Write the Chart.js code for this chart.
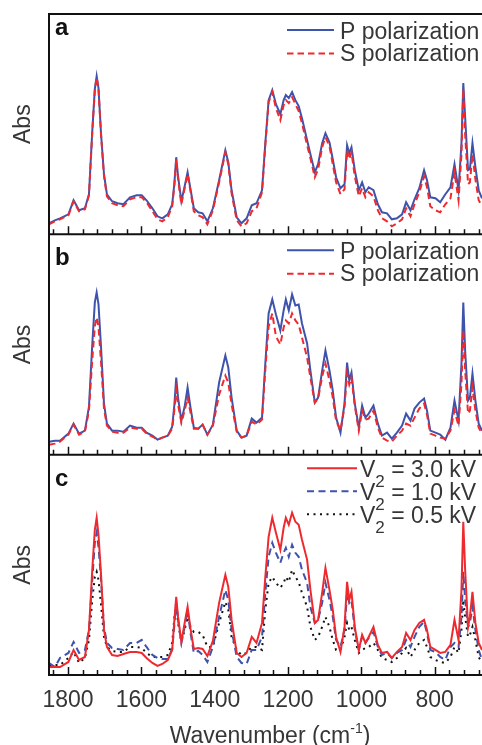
<!DOCTYPE html>
<html><head><meta charset="utf-8">
<script src="https://cdn.jsdelivr.net/npm/chart.js@4.4.0/dist/chart.umd.min.js"></script>
<style>html,body{margin:0;padding:0;background:#fff;overflow:hidden}#wrap{position:relative;width:482px;height:745px}</style>
</head><body><div id="wrap"><canvas id="c" width="482" height="745"></canvas></div>
<script>
// Wavenumber grid (cm-1)
const wavenumbers = [
1852,1836,1822,1799,1785,1770,1754,1743,1734,1727,
1722,1717,1710,1702,1694,1680,1665,1649,1631,1613,
1599,1586,1570,1556,1543,1528,1516,1510,1505,1500,
1491,1482,1474,1466,1457,1445,1433,1420,1405,1388,
1371,1363,1354,1340,1327,1313,1299,1286,1271,1262,
1253,1243,1233,1221,1212,1206,1198,1189,1180,1171,
1162,1148,1139,1127,1118,1107,1098,1087,1078,1069,
1057,1046,1039,1033,1027,1018,1007,998,989,980,
967,955,944,930,917,903,889,878,866,855,
842,829,821,812,798,785,771,757,746,735,
727,722,717,709,704,697,689,680,671];

// Panel a (arb. Abs units)
const aP = [
11,14,16,20,34,24,26,40,103,145,
158,146,100,60,40,33,31,30,37,39,
39,34,26,18,16,20,30,51,77,58,
33,48,62,45,26,22,21,13,26,54,
84,72,44,17,11,16,29,31,44,91,
134,144,130,120,134,139,136,142,134,128,
116,94,80,62,70,91,101,92,75,57,
46,50,89,81,87,64,44,52,42,47,
44,30,22,21,15,16,20,32,24,35,
46,64,54,37,36,32,40,47,70,44,
91,151,117,64,65,91,67,44,36];
const aS = [
10,13,15,19,33,23,25,39,102,144,
157,145,99,58,38,31,29,28,35,37,
37,32,23,15,13,17,28,49,75,55,
30,46,60,43,23,19,17,10,24,52,
82,70,41,14,8,11,23,26,42,89,
132,142,126,114,129,134,131,137,130,123,
111,89,76,57,65,87,97,88,70,52,
40,45,84,75,82,58,38,46,37,42,
38,24,16,13,8,11,15,26,18,30,
42,58,47,28,24,22,30,36,62,34,
80,145,100,50,52,80,55,34,28];

// Panel b
const bP = [
13,14,14,21,31,21,24,48,110,152,
162,150,107,51,31,24,24,23,29,27,
27,22,19,15,17,19,28,50,77,57,
34,48,67,47,27,26,30,20,30,72,
99,87,57,24,17,19,36,32,37,91,
141,155,140,124,144,155,144,160,149,150,
131,111,84,52,57,84,104,84,64,37,
22,51,92,74,82,51,27,49,37,41,
49,31,19,22,16,22,29,41,34,46,
52,56,44,24,22,20,15,27,54,34,
91,152,104,54,57,81,54,31,24];
const bS = [
10,11,13,20,30,20,23,44,95,128,
137,128,92,46,29,23,22,22,27,26,
26,21,18,15,17,19,26,45,65,50,
32,44,57,42,26,26,30,20,29,60,
79,72,50,23,17,19,33,30,35,85,
128,141,118,110,127,134,131,141,134,130,
117,97,77,52,56,78,91,74,57,34,
24,48,81,70,77,49,24,44,35,36,
44,27,17,14,13,19,24,31,29,37,
46,51,40,21,19,17,16,24,44,29,
71,124,84,41,44,67,44,27,21];

// Panel c
const cV30 = [
8,8,8,13,25,15,18,45,105,145,
157,140,100,45,28,20,19,21,23,23,
22,17,12,9,11,15,25,55,78,58,
33,52,68,46,26,27,26,19,34,72,
100,88,55,22,18,22,38,32,52,98,
138,157,142,125,147,157,150,162,153,150,
135,115,85,52,55,82,107,85,65,38,
23,48,93,75,83,48,25,40,32,38,
48,30,22,23,17,23,28,42,35,45,
52,55,45,28,25,22,23,30,55,35,
85,153,105,48,58,83,52,32,25];
const cV10 = [
12,8,17,22,33,22,25,45,95,132,
142,128,95,48,32,27,26,25,32,32,
35,28,20,17,16,16,26,50,72,55,
32,48,65,42,22,24,20,13,28,58,
85,75,45,18,12,11,25,25,38,82,
118,132,122,112,122,127,118,130,122,118,
105,92,68,52,55,72,92,75,58,35,
28,45,82,72,75,45,25,38,32,37,
43,28,20,22,17,22,25,35,28,38,
48,53,42,25,23,18,15,28,32,28,
58,103,75,48,52,68,45,25,15];
const cV05 = [
10,10,10,17,23,12,17,35,75,98,
103,95,70,38,28,24,23,23,28,28,
27,22,18,18,18,20,32,58,73,52,
33,45,58,48,43,43,40,28,28,52,
73,65,38,25,20,22,28,28,25,65,
92,98,92,87,92,98,93,105,98,93,
82,68,48,35,38,48,58,48,35,25,
25,38,52,45,48,35,22,25,27,28,
32,25,17,15,13,17,22,27,18,25,
32,35,28,18,15,13,12,18,28,22,
45,75,58,38,40,48,35,18,12];

const xTickLabels = [1800,1600,1400,1200,1000,800];
const minorTicks = [1840,1760,1720,1680,1640,1560,1520,1480,1440,1360,1320,1280,1240,1160,1120,1080,1040,960,920,880,840,760,720,680];
const panelLetters = ['a','b','c'];
const legendPol = ['P polarization','S polarization'];
const legendVolt = ['3.0 kV','1.0 kV','0.5 kV'];
const yTitle = 'Abs';
const xTitleMain = 'Wavenumber (cm';
const xTitleSup = '-1';

const FONT = "Arial, 'Liberation Sans', Helvetica, sans-serif";
const TXT = '#363636';
const BLUE = '#3e53ab';
const RED = '#ee2a2f';

const pts = arr => wavenumbers.map((w,i)=>({x:w,y:arr[i]}));

function yScale(weight){
  return {
    type:'linear', position:'left', stack:'panels', stackWeight:1, weight:weight,
    min:0, max:220,
    grid:{display:false, drawTicks:false}, border:{display:false},
    ticks:{display:false},
    title:{display:true, text:yTitle, color:TXT, font:{family:FONT, size:23}, padding:{top:10,bottom:0}},
    afterFit(s){ s.width = 49; }
  };
}

const decor = {
  id:'decor',
  afterDraw(chart){
    const ctx = chart.ctx, xs = chart.scales.x, area = chart.chartArea;
    const panels = [chart.scales.ya, chart.scales.yb, chart.scales.yc];
    ctx.save();
    // frame
    ctx.strokeStyle = '#111'; ctx.lineWidth = 2;
    ctx.beginPath();
    ctx.moveTo(area.left, area.top-1); ctx.lineTo(area.left, area.bottom+1);
    panels.forEach(p=>{
      ctx.moveTo(area.left-1, p.top); ctx.lineTo(area.right, p.top);
      ctx.moveTo(area.left-1, p.bottom); ctx.lineTo(area.right, p.bottom);
    });
    ctx.stroke();
    // inward ticks
    ctx.lineWidth = 1.5;
    ctx.beginPath();
    panels.forEach(p=>{
      xTickLabels.forEach(v=>{ const x = Math.round(xs.getPixelForValue(v))+0.5; ctx.moveTo(x,p.bottom); ctx.lineTo(x,p.bottom-8); });
      minorTicks.forEach(v=>{ const x = Math.round(xs.getPixelForValue(v))+0.5; ctx.moveTo(x,p.bottom); ctx.lineTo(x,p.bottom-5); });
    });
    ctx.stroke();
    // panel letters
    ctx.fillStyle = '#111';
    ctx.font = 'bold 24px ' + FONT;
    ctx.textBaseline = 'alphabetic'; ctx.textAlign = 'left';
    const letterOff = [21, 31, 31.5];
    panels.forEach((p,i)=>{ ctx.fillText(panelLetters[i], 55, p.top + letterOff[i]); });
    // legends a & b
    ctx.font = '23px ' + FONT;
    const polStyles = [{c:BLUE,d:[]},{c:RED,d:[6.5,4]}];
    [panels[0], panels[1]].forEach(p=>{
      legendPol.forEach((t,i)=>{
        const sy = p.top + 16 + i*23.5;
        ctx.strokeStyle = polStyles[i].c; ctx.lineWidth = 2; ctx.setLineDash(polStyles[i].d);
        ctx.beginPath(); ctx.moveTo(287, sy); ctx.lineTo(334, sy); ctx.stroke();
        ctx.setLineDash([]);
        ctx.fillStyle = TXT;
        ctx.fillText(t, 340, p.top + 24.5 + i*22.5);
      });
    });
    // legend c
    const pc = panels[2];
    const vStyles = [{c:RED,d:[]},{c:BLUE,d:[7,4.5]},{c:'#111',d:[2,4.5]}];
    legendVolt.forEach((t,i)=>{
      const sy = pc.top + 13.5 + i*23;
      ctx.strokeStyle = vStyles[i].c; ctx.lineWidth = 2; ctx.setLineDash(vStyles[i].d);
      ctx.beginPath(); ctx.moveTo(307, sy); ctx.lineTo(357, sy); ctx.stroke();
      ctx.setLineDash([]);
      ctx.fillStyle = TXT;
      const by = pc.top + 22.5 + i*23;
      ctx.font = '23px ' + FONT;
      ctx.fillText('V', 360, by);
      let x = 360 + ctx.measureText('V').width;
      ctx.font = '17px ' + FONT;
      ctx.fillText('2', x, by + 10);
      x += ctx.measureText('2').width;
      ctx.font = '23px ' + FONT;
      ctx.fillText(' = ' + t, x, by);
    });
    // x title with superscript
    ctx.fillStyle = TXT;
    ctx.font = '23px ' + FONT;
    const w1 = ctx.measureText(xTitleMain).width;
    ctx.font = '14px ' + FONT;
    const w2 = ctx.measureText(xTitleSup).width;
    ctx.font = '23px ' + FONT;
    const w3 = ctx.measureText(')').width;
    let x0 = 270 - (w1+w2+w3)/2;
    const base = 743;
    ctx.fillText(xTitleMain, x0, base);
    ctx.font = '14px ' + FONT;
    ctx.fillText(xTitleSup, x0 + w1, base - 10);
    ctx.font = '23px ' + FONT;
    ctx.fillText(')', x0 + w1 + w2, base);
    ctx.restore();
  }
};

const ds = (label, arr, axis, color, dash, order) => ({
  label, data: pts(arr), yAxisID: axis, borderColor: color, borderWidth: 2,
  borderDash: dash, pointRadius: 0, tension: 0, fill: false, order
});

new Chart(document.getElementById('c'), {
  type:'line',
  data:{ datasets:[
    ds('a P', aP, 'ya', BLUE, [], 1),
    ds('a S', aS, 'ya', RED, [6.5,4], 0),
    ds('b P', bP, 'yb', BLUE, [], 1),
    ds('b S', bS, 'yb', RED, [6.5,4], 0),
    ds('c 3.0', cV30, 'yc', RED, [], 0),
    ds('c 1.0', cV10, 'yc', BLUE, [7,4.5], 1),
    ds('c 0.5', cV05, 'yc', '#111', [2,4.5], 2)
  ]},
  options:{
    responsive:false, animation:false, devicePixelRatio:1,
    layout:{padding:{top:14,right:0,bottom:0,left:0}},
    plugins:{legend:{display:false}, tooltip:{enabled:false}, title:{display:false}},
    scales:{
      x:{type:'linear', position:'bottom', reverse:true, min:671, max:1852,
         grid:{display:false, drawTicks:false}, border:{display:false},
         ticks:{color:TXT, font:{family:FONT, size:23}, padding:12, maxRotation:0, autoSkip:false,
                callback:(v)=>String(v)},
         afterBuildTicks(s){ s.ticks = xTickLabels.map(v=>({value:v})); },
         afterFit(s){ s.height = 70; }
      },
      ya: yScale(3),
      yb: yScale(2),
      yc: yScale(1)
    }
  },
  plugins:[decor]
});
</script></body></html>
